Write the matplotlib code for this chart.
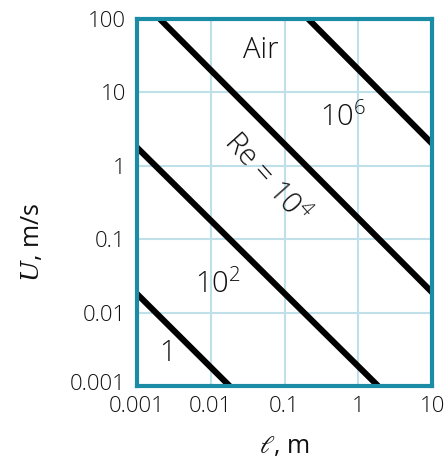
import matplotlib.pyplot as plt
import matplotlib.transforms as mtransforms

# endpoints of each Re line (length l in m, speed U in m/s)
re_names = ['1', '10^2', '10^4', '10^6']
line_l = [[0.001, 0.018], [0.001, 1.85], [0.00205, 10], [0.21, 10]]
line_u = [[0.018, 0.001], [1.78, 0.001], [100, 0.0188], [100, 2.0]]

ticks = [0.001, 0.01, 0.1, 1, 10, 100]
tick_labels = ['0.001', '0.01', '0.1', '1', '10', '100']

frame = '#1b8ca6'
grid = '#bfe0e8'
ink = '#111111'

plt.rcParams['font.family'] = ['Open Sans', 'DejaVu Sans']
plt.rcParams['font.weight'] = 'light'
plt.rcParams['mathtext.fontset'] = 'dejavuserif'

fig = plt.figure(figsize=(4.46, 4.65), dpi=100)
ax = fig.add_axes([0.307, 0.170, 0.662, 0.789])

for lx, uy in zip(line_l, line_u):
    ax.plot(lx, uy, color='black', lw=4.4, solid_capstyle='butt', zorder=3)

ax.set_xscale('log')
ax.set_yscale('log')
ax.set_xlim(0.001, 10)
ax.set_ylim(0.001, 100)
ax.set_xticks(ticks[:5])
ax.set_xticklabels(tick_labels[:5])
ax.set_yticks(ticks)
ax.set_yticklabels(tick_labels)
ax.minorticks_off()
ax.tick_params(length=0, labelsize=16, colors=ink)
ax.tick_params(axis='x', pad=7)
ax.tick_params(axis='y', pad=8)
ax.grid(True, color=grid, lw=1.5)
for s in ax.spines.values():
    s.set_color(frame)
    s.set_linewidth(3)
    s.set_zorder(4)

# lift the lowest y label a bit, as in the original
lab = ax.get_yticklabels()[0]
lab.set_transform(lab.get_transform() + mtransforms.ScaledTranslation(0, 3 / 72, fig.dpi_scale_trans))

ax.set_xlabel(r'$\ell$, m', fontsize=18, color=ink)
ax.xaxis.set_label_coords(0.5, -0.13)
ax.set_ylabel(r'$U$, m/s', fontsize=18, color=ink)
ax.yaxis.set_label_coords(-0.31, 0.39)

fs = 21
ax.text(0.047, 38, 'Air', fontsize=fs, ha='center', va='center', color=ink)
ax.text(0.62, 4.5, r'$\mathregular{10^6}$', fontsize=fs, ha='center', va='center', color=ink)
ax.text(0.057, 0.68, r'Re = $\mathregular{10^4}$', fontsize=fs, ha='center', va='center',
        rotation=-48, rotation_mode='anchor', color=ink)
ax.text(0.0126, 0.024, r'$\mathregular{10^2}$', fontsize=fs, ha='center', va='center', color=ink)
ax.text(0.0026, 0.0028, '1', fontsize=fs, ha='center', va='center', color=ink)

fig.savefig('out.png', dpi=100)
